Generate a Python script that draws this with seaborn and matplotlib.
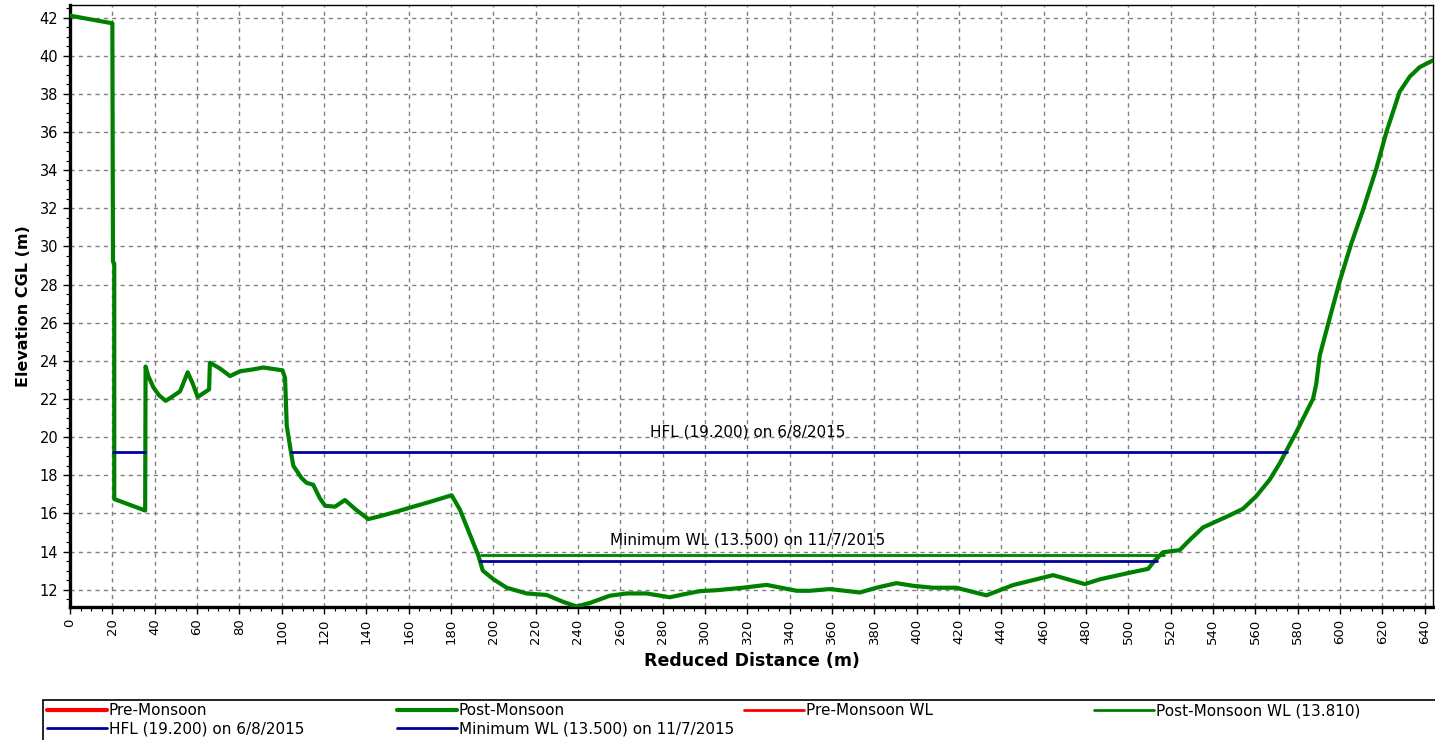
import matplotlib
matplotlib.use("Agg")
import matplotlib.pyplot as plt
from matplotlib.lines import Line2D
from matplotlib.patches import Rectangle
from matplotlib.ticker import MultipleLocator
import pandas as pd
import seaborn as sns

# ground profile (post-monsoon survey)
distance = [0, 5, 10, 15, 20, 20.3, 20.9, 20.9, 35.5, 35.7, 37, 39.4, 42, 45.2, 48, 52,
            55.6, 58, 60.3, 63, 65.7, 66.1, 70.8, 75.6, 80.3, 86.5, 91.3, 100.4, 101.6,
            102.4, 104.4, 105.5, 109.4, 111.8, 114.9, 118, 120.5, 125.2, 129.9, 135,
            140.9, 146.4, 153, 160.6, 170, 180.3, 184.2, 188.9, 192.9, 195, 200, 206.3,
            215.7, 225.2, 233, 239.3, 245.6, 255, 263, 272.4, 283.4, 289.7, 297.6, 305.5,
            318, 329.1, 343.3, 349.6, 359, 373.2, 381, 390.5, 398.4, 407.8, 418.8, 433,
            445.6, 464.5, 479.5, 486.5, 500, 509.4, 512.5, 516.4, 524.3, 529, 535.3, 548,
            554.2, 560.5, 566.8, 571.6, 574.7, 579.4, 587.3, 588.8, 590.5, 595.2, 600,
            605.4, 610.9, 617.2, 622, 628.2, 633, 637.7, 644.8]
elevation = [42.1, 42.0, 41.9, 41.8, 41.7, 29.2, 29.1, 16.75, 16.15, 23.7, 23.2, 22.6,
             22.2, 21.9, 22.1, 22.4, 23.4, 22.8, 22.1, 22.3, 22.5, 23.9, 23.6, 23.2, 23.45,
             23.55, 23.65, 23.5, 23.1, 20.6, 19.2, 18.5, 17.85, 17.6, 17.5, 16.8, 16.4,
             16.35, 16.7, 16.2, 15.7, 15.85, 16.05, 16.3, 16.6, 16.95, 16.2, 14.9, 13.8,
             13.0, 12.55, 12.1, 11.8, 11.72, 11.36, 11.12, 11.3, 11.68, 11.8, 11.8, 11.6,
             11.75, 11.92, 11.97, 12.1, 12.25, 11.94, 11.94, 12.03, 11.85, 12.1, 12.34,
             12.2, 12.1, 12.1, 11.7, 12.24, 12.76, 12.29, 12.54, 12.87, 13.09, 13.52,
             13.96, 14.07, 14.6, 15.26, 15.9, 16.24, 16.9, 17.76, 18.63, 19.28, 20.26,
             22.0, 22.76, 24.28, 26.24, 28.2, 30.15, 31.9, 34.07, 36.0, 38.1, 38.9, 39.4,
             39.8]

# water levels: (level, [(start, end), ...])
hfl_level = 19.2
hfl_spans = [(20.5, 35.6), (104.3, 575.0)]
min_wl_level = 13.5
min_wl_spans = [(193.5, 513.5)]
post_wl_level = 13.81
post_wl_spans = [(194.0, 517.0)]

hfl_label = "HFL (19.200) on 6/8/2015"
min_wl_label = "Minimum WL (13.500) on 11/7/2015"
post_wl_label = "Post-Monsoon WL (13.810)"

GREEN = "#008000"
BLUE = "#000099"
RED = "#FF0000"

sns.set_style("ticks")
plt.rcParams["font.family"] = ["DejaVu Sans"]

fig = plt.figure(figsize=(14.35, 7.4), dpi=100)
ax = fig.add_axes([0.0488, 0.18, 0.9498, 0.813])

profile = pd.DataFrame({"distance": distance, "elevation": elevation})
sns.lineplot(data=profile, x="distance", y="elevation", sort=False, estimator=None,
             color=GREEN, linewidth=3.0, ax=ax, zorder=3)


def level_lines(level, spans, color, lw):
    for x0, x1 in spans:
        seg = pd.DataFrame({"distance": [x0, x1], "elevation": [level, level]})
        sns.lineplot(data=seg, x="distance", y="elevation", sort=False, estimator=None,
                     color=color, linewidth=lw, ax=ax, zorder=4)


level_lines(post_wl_level, post_wl_spans, GREEN, 2.0)
level_lines(min_wl_level, min_wl_spans, BLUE, 2.0)
level_lines(hfl_level, hfl_spans, BLUE, 2.0)

ax.text(320, 19.85, hfl_label, ha="center", va="bottom", fontsize=11, color="black")
ax.text(320, 14.2, min_wl_label, ha="center", va="bottom", fontsize=11, color="black")

ax.set_xlim(0, 644)
ax.set_ylim(11.1, 42.65)
ax.xaxis.set_major_locator(MultipleLocator(20))
ax.xaxis.set_minor_locator(MultipleLocator(5))
ax.yaxis.set_major_locator(MultipleLocator(2))
ax.yaxis.set_minor_locator(MultipleLocator(0.5))
ax.tick_params(axis="x", which="major", labelrotation=90, labelsize=9.5, length=5, width=1,
               colors="black")
ax.tick_params(axis="y", which="major", labelsize=10.5, length=5, width=1, colors="black")
ax.tick_params(which="minor", length=3, width=0.8, colors="black")

ax.grid(True, which="major", linestyle=(0, (3, 3)), color="#808080", linewidth=1.0)
for side in ["left", "bottom"]:
    ax.spines[side].set_linewidth(2.4)
    ax.spines[side].set_color("black")
for side in ["top", "right"]:
    ax.spines[side].set_linewidth(1.0)
    ax.spines[side].set_color("black")

ax.set_xlabel("Reduced Distance (m)", fontsize=12.5, fontweight="bold", labelpad=6,
              color="black")
ax.set_ylabel("Elevation CGL (m)", fontsize=11.5, fontweight="bold", labelpad=6,
              color="black")

# legend: boxed strip at the bottom, four columns laid out row by row
fig.add_artist(Rectangle((43 / 1435, -0.05), 1.0, 0.05 + 40 / 740,
                         transform=fig.transFigure, fill=False,
                         edgecolor="black", linewidth=1.2))
columns = [
    (47, [("Pre-Monsoon", RED, 3.0), (hfl_label, BLUE, 2.0)]),
    (397, [("Post-Monsoon", GREEN, 3.0), (min_wl_label, BLUE, 2.0)]),
    (744, [("Pre-Monsoon WL", RED, 2.0)]),
    (1094, [(post_wl_label, GREEN, 2.0)]),
]
for x_px, entries in columns:
    handles = [Line2D([], [], color=c, linewidth=lw) for _, c, lw in entries]
    labels = [t for t, _, _ in entries]
    leg = fig.legend(handles, labels, loc="upper left",
                     bbox_to_anchor=(x_px / 1435, 1 - 703 / 740), fontsize=11,
                     frameon=False, handlelength=3.9, handletextpad=0.15,
                     labelspacing=0.2, borderpad=0.0, borderaxespad=0,
                     labelcolor="black")

fig.savefig("out.png", dpi=100)
